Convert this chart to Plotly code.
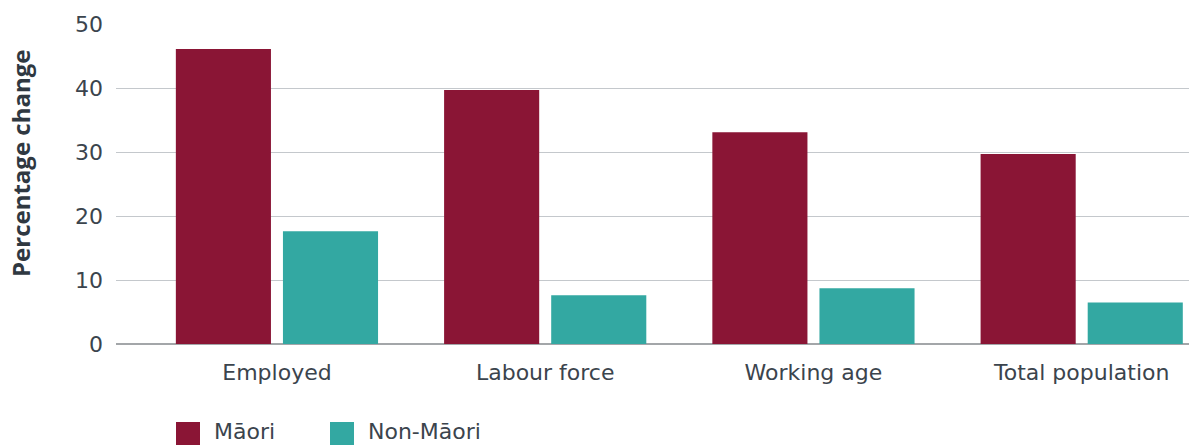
import plotly.graph_objects as go

categories = ["Employed", "Labour force", "Working age", "Total population"]
maori = [46.1, 39.7, 33.1, 29.7]
non_maori = [17.6, 7.6, 8.7, 6.5]
y_ticks = [0, 10, 20, 30, 40, 50]
series_names = ["Māori", "Non-Māori"]
series_colors = ["#8a1535", "#33a8a2"]

FONT = "DejaVu Sans"
TXT = "#3b444d"
L, T, PW, PH = 116, 24, 1073, 320

def px(x):
    return (x - L) / PW

def py(y):
    return (T + PH - y) / PH

fig = go.Figure()
for name, vals, col in zip(series_names, [maori, non_maori], series_colors):
    fig.add_trace(go.Bar(x=categories, y=vals, name=name,
                         marker=dict(color=col, line=dict(width=0)), showlegend=False))

# custom legend (large square swatches)
leg_x = [176, 330]
for i, (name, col) in enumerate(zip(series_names, series_colors)):
    x0 = leg_x[i]
    fig.add_shape(type="rect", xref="paper", yref="paper",
                  x0=px(x0), x1=px(x0 + 24), y0=py(446), y1=py(422),
                  fillcolor=col, line=dict(width=0))
    fig.add_annotation(xref="paper", yref="paper", x=px(x0 + 36), y=py(431),
                       xanchor="left", yanchor="middle", text=name, showarrow=False,
                       font=dict(family=FONT, size=22, color=TXT))

# y-axis title
fig.add_annotation(xref="paper", yref="paper", x=px(20), y=py(164), textangle=-90,
                   xanchor="center", yanchor="middle", showarrow=False,
                   text="<b>Percentage change</b>",
                   font=dict(family="Open Sans", size=24, color="#2f3841"))

fig.update_layout(
    width=1189, height=445,
    margin=dict(l=L, r=0, t=T, b=101, pad=0, autoexpand=False),
    paper_bgcolor="white", plot_bgcolor="white",
    barmode="group", bargap=0.2015, bargroupgap=0.112,
    font=dict(family=FONT, size=22, color=TXT),
    showlegend=False,
)
fig.update_xaxes(range=[-0.6, 3.4], showgrid=False, showline=False, zeroline=False,
                 ticks="", tickfont=dict(size=22, color=TXT), ticklabelstandoff=13)
fig.update_yaxes(range=[0, 50], tickvals=y_ticks, showgrid=True, gridcolor="#c4c8cc", gridwidth=1,
                 zeroline=True, zerolinecolor="#a3a6a9", zerolinewidth=1.5,
                 showline=False, ticks="", tickfont=dict(size=22, color=TXT), ticklabelstandoff=12)

fig.write_html("out.html")
